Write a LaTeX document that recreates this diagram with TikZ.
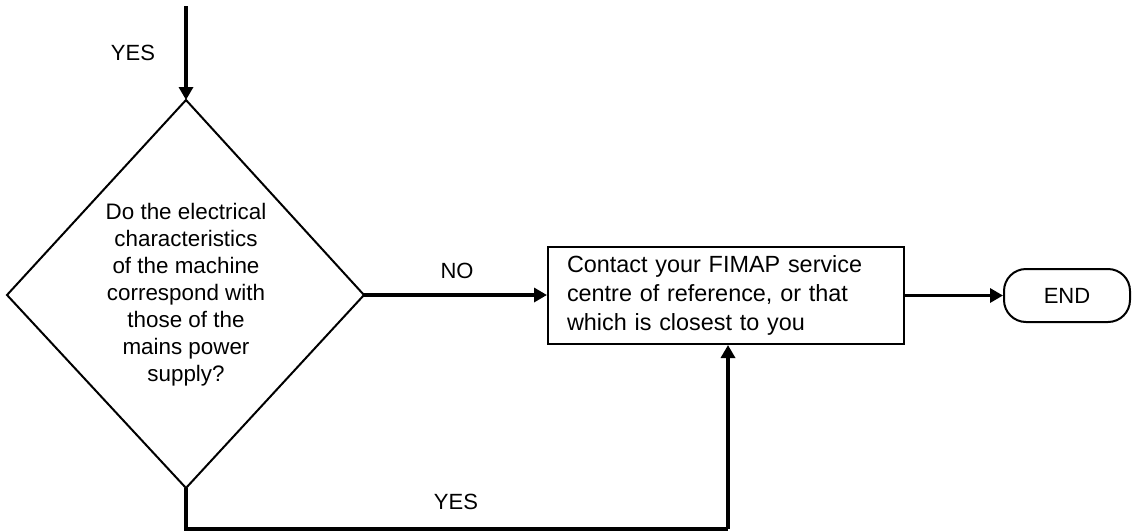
\documentclass[tikz,border=0pt]{standalone}
\usepackage{fontspec}
\setmainfont{Liberation Sans}
\usetikzlibrary{arrows.meta}
\begin{document}
\begin{tikzpicture}[x=1pt,y=-1pt,
  shapeline/.style={draw=black,line width=2pt},
  conn/.style={draw=black,line width=3.5pt,-{Triangle[length=13pt,width=14pt]}},
  plainconn/.style={draw=black,line width=3.5pt},
  lbl/.style={font=\fontsize{22}{27}\selectfont,inner sep=0pt},
  every node/.style={font=\fontsize{22}{27}\selectfont}]
\useasboundingbox (0,0) rectangle (1132,531);
% diamond corners
\coordinate (dl) at (7,295);
\coordinate (dt) at (186,100);
\coordinate (dr) at (364,295);
\coordinate (db) at (186,488);
\draw[shapeline,line join=miter] (dl) -- (dt) -- (dr) -- (db) -- cycle;
\node[align=center,inner sep=0pt,font=\fontsize{22.4}{27}\selectfont] (dtext) at (186,295)
  {Do the electrical\\characteristics\\of the machine\\correspond with\\those of the\\mains power\\supply?};
% box
\node[shapeline,minimum width=356pt,minimum height=97pt,text width=318pt,align=left,inner sep=0pt,
  font=\fontsize{23.4}{29}\selectfont] (box) at (726,295.5)
  {Contact your FIMAP service\\centre of reference, or that\\which is closest to you};
% terminal
\node[shapeline,rounded corners=22pt,minimum width=126pt,minimum height=53pt,inner sep=0pt] (end) at (1067,295.5) {END};
% top arrow
\coordinate (topstart) at (186,6);
\draw[conn] (topstart) -- (dt);
\node[lbl] (yes1) at (133,53) {YES};
% NO arrow
\draw[conn] (dr) -- (dr -| box.west);
\node[lbl] (no) at (457,271) {NO};
% to END
\draw[conn] (box.east |- end.west) -- (end.west);
% bottom loop
\coordinate (b1) at (186,529);
\coordinate (b2) at (728,529);
\coordinate (b3) at (728,344);
\draw[plainconn] (db) -- (b1) -- (b2);
\draw[conn] (b2) -- (b3 |- box.south);
\node[lbl] (yes2) at (456,502) {YES};
\end{tikzpicture}
\end{document}
